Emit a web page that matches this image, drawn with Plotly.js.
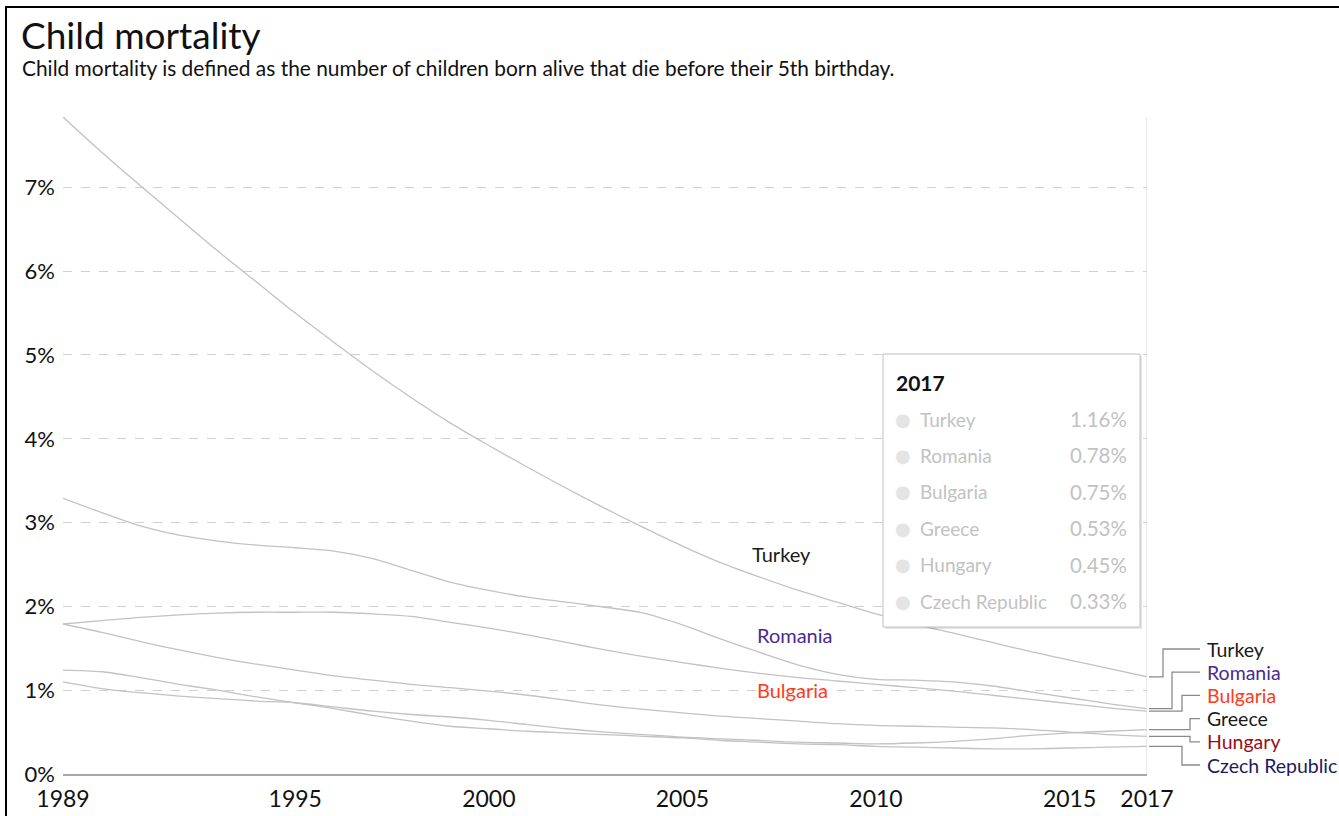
<!DOCTYPE html>
<html>
<head>
<meta charset="utf-8">
<script src="https://cdn.plot.ly/plotly-3.0.1.min.js"></script>
<style>
  html, body { margin: 0; padding: 0; background: #fff; overflow: hidden; }
  #chart { position: absolute; left: 0; top: 0; width: 1339px; height: 816px; }
  #frame { position: absolute; left: 5px; top: 6px; width: 3000px; height: 3000px;
           border-left: 2.5px solid #000; border-top: 2.5px solid #000; pointer-events: none; }
</style>
</head>
<body>
<div id="chart"></div>
<div id="frame"></div>
<script>
// ---------- data ----------
const years = [1989,1990,1991,1992,1993,1994,1995,1996,1997,1998,1999,2000,2001,2002,2003,2004,2005,2006,2007,2008,2009,2010,2011,2012,2013,2014,2015,2016,2017];

const turkey   = [7.84,7.42,7.02,6.63,6.24,5.87,5.50,5.15,4.81,4.49,4.19,3.92,3.66,3.41,3.17,2.94,2.72,2.52,2.35,2.19,2.05,1.91,1.79,1.68,1.57,1.46,1.36,1.26,1.16];
const romania  = [3.29,3.12,2.96,2.85,2.78,2.73,2.70,2.66,2.57,2.43,2.29,2.19,2.11,2.05,1.99,1.92,1.78,1.61,1.45,1.30,1.19,1.13,1.12,1.10,1.05,0.98,0.91,0.84,0.78];
const bulgaria = [1.79,1.83,1.87,1.90,1.92,1.93,1.93,1.93,1.91,1.88,1.81,1.74,1.66,1.57,1.48,1.40,1.33,1.26,1.20,1.15,1.11,1.07,1.03,0.99,0.94,0.89,0.84,0.79,0.75];
const greece   = [1.10,1.02,0.97,0.93,0.90,0.87,0.85,0.80,0.75,0.71,0.68,0.64,0.59,0.54,0.50,0.47,0.44,0.42,0.40,0.38,0.37,0.36,0.37,0.39,0.42,0.46,0.49,0.51,0.53];
const hungary  = [1.79,1.69,1.58,1.48,1.39,1.31,1.24,1.17,1.12,1.07,1.03,0.99,0.94,0.88,0.82,0.77,0.73,0.69,0.66,0.63,0.60,0.58,0.57,0.56,0.55,0.53,0.50,0.47,0.45];
const czech    = [1.24,1.22,1.15,1.07,1.00,0.92,0.85,0.78,0.70,0.63,0.57,0.54,0.51,0.49,0.47,0.45,0.43,0.40,0.38,0.36,0.35,0.33,0.32,0.31,0.30,0.30,0.31,0.32,0.33];

const countries = ["Turkey","Romania","Bulgaria","Greece","Hungary","Czech Republic"];
const seriesValues = [turkey, romania, bulgaria, greece, hungary, czech];
const labelColors = ["#1a1a1a","#4b2a8f","#ff3b1d","#1a1a1a","#9b0d1a","#1c1a5e"];

const xTickVals = [1989,1995,2000,2005,2010,2015,2017];
const yTickVals = [0,1,2,3,4,5,6,7];
const yTickText = ["0%","1%","2%","3%","4%","5%","6%","7%"];

const titleText = "Child mortality";
const subtitleText = "Child mortality is defined as the number of children born alive that die before their 5th birthday.";
const hoverYear = 2017;

// ---------- layout helpers ----------
const W = 1339, H = 816;
const M = {l: 63, r: 192, t: 117, b: 42};
const PW = W - M.l - M.r, PH = H - M.t - M.b;
const px2x = px => (px - M.l) / PW;
const px2y = py => (H - M.b - py) / PH;
const yMax = Math.max(...turkey);
const FONT = "Lato, 'Open Sans', sans-serif";

// ---------- traces ----------
const traces = countries.map((c, i) => ({
  type: "scatter", mode: "lines", name: c,
  x: years, y: seriesValues[i],
  line: {color: "#c2c2c2", width: 1.3, shape: "spline", smoothing: 0.9},
  hoverinfo: "skip", showlegend: false
}));

const annotations = [];
const shapes = [];

// title + subtitle
annotations.push({xref: "paper", yref: "paper", x: px2x(19), y: px2y(34), xanchor: "left", yanchor: "middle",
  text: titleText, showarrow: false, font: {family: FONT, size: 37, color: "#111"}});
annotations.push({xref: "paper", yref: "paper", x: px2x(20), y: px2y(68), xanchor: "left", yanchor: "middle",
  text: subtitleText, showarrow: false, font: {family: FONT, size: 20.9, color: "#111"}});

// inline labels for first three series
const inlineLabels = [
  {i: 0, x: 2007.55, y: 2.63},
  {i: 1, x: 2007.9, y: 1.66},
  {i: 2, x: 2007.85, y: 1.00}
];
inlineLabels.forEach(l => annotations.push({x: l.x, y: l.y, xref: "x", yref: "y", text: countries[l.i],
  showarrow: false, font: {family: FONT, size: 20, color: labelColors[l.i]}}));

// right-side labels with elbow connectors
const labelTopPx = 649, labelGapPx = 23.2;
const elbowPx = [1163, 1172, 1182, 1190, 1190, 1182];
countries.forEach((c, i) => {
  const ly = labelTopPx + i * labelGapPx;
  const last = seriesValues[i][seriesValues[i].length - 1];
  const sy = last / yMax; // paper y of the series end
  const ex = px2x(elbowPx[i]);
  const lyP = px2y(ly);
  shapes.push({type: "path", xref: "paper", yref: "paper",
    path: `M ${px2x(1149)} ${sy} L ${ex} ${sy} L ${ex} ${lyP} L ${px2x(1200)} ${lyP}`,
    line: {color: "#8a8a8a", width: 1.3}});
  annotations.push({xref: "paper", yref: "paper", x: px2x(1205), y: lyP, xanchor: "left", yanchor: "middle",
    text: c, showarrow: false, font: {family: FONT, size: 19.5, color: labelColors[i]}});
});

// hover crosshair line at 2017
shapes.push({type: "line", xref: "x", yref: "paper", x0: hoverYear, x1: hoverYear, y0: 0, y1: 1,
  line: {color: "#dcdcdc", width: 1.2}});

// tooltip box
const box = {l: 883, t: 354, r: 1140, b: 627};
shapes.push({type: "rect", xref: "paper", yref: "paper",
  x0: px2x(box.l + 2), x1: px2x(box.r + 2), y0: px2y(box.b + 2), y1: px2y(box.t + 2),
  fillcolor: "rgba(0,0,0,0.10)", line: {width: 0}});
shapes.push({type: "rect", xref: "paper", yref: "paper",
  x0: px2x(box.l), x1: px2x(box.r), y0: px2y(box.b), y1: px2y(box.t),
  fillcolor: "#ffffff", line: {color: "#c0c0c0", width: 1}});
annotations.push({xref: "paper", yref: "paper", x: px2x(894), y: px2y(382), xanchor: "left", yanchor: "middle",
  text: "<b>" + hoverYear + "</b>", showarrow: false, font: {family: FONT, size: 21, color: "#111"}});
const yi = years.indexOf(hoverYear);
const order = countries.map((c, i) => i).sort((a, b) => seriesValues[b][yi] - seriesValues[a][yi]);
order.forEach((idx, k) => {
  const ry = 419 + k * 36.4;
  annotations.push({xref: "paper", yref: "paper", x: px2x(903), y: px2y(ry), xanchor: "center", yanchor: "middle",
    text: "●", showarrow: false, font: {family: "DejaVu Sans", size: 18, color: "#e4e4e4"}});
  annotations.push({xref: "paper", yref: "paper", x: px2x(918), y: px2y(ry), xanchor: "left", yanchor: "middle",
    text: countries[idx], showarrow: false, font: {family: FONT, size: 19, color: "#c2c2c2"}});
  annotations.push({xref: "paper", yref: "paper", x: px2x(1129), y: px2y(ry), xanchor: "right", yanchor: "middle",
    text: seriesValues[idx][yi].toFixed(2) + "%", showarrow: false, font: {family: FONT, size: 20.5, color: "#c2c2c2"}});
});

const layout = {
  width: W, height: H,
  margin: {l: M.l, r: M.r, t: M.t, b: M.b, pad: 0},
  paper_bgcolor: "#fff", plot_bgcolor: "#fff",
  font: {family: FONT, color: "#111"},
  showlegend: false,
  xaxis: {range: [1989, 2017], tickvals: xTickVals, ticktext: xTickVals.map(String),
    showgrid: false, zeroline: false, showline: true, linecolor: "#a8a8a8", linewidth: 1.5,
    ticks: "", ticklabelstandoff: 4, tickfont: {family: FONT, size: 23, color: "#111"}, fixedrange: true},
  yaxis: {range: [0, yMax], tickvals: yTickVals, ticktext: yTickText,
    showgrid: true, gridcolor: "#d0d0d0", griddash: "dash", gridwidth: 1,
    zeroline: false, showline: false, ticks: "", ticklabelstandoff: 7,
    tickfont: {family: FONT, size: 22, color: "#111"}, fixedrange: true},
  shapes: shapes,
  annotations: annotations
};

Plotly.newPlot("chart", traces, layout, {staticPlot: true, displayModeBar: false});
</script>
</body>
</html>
